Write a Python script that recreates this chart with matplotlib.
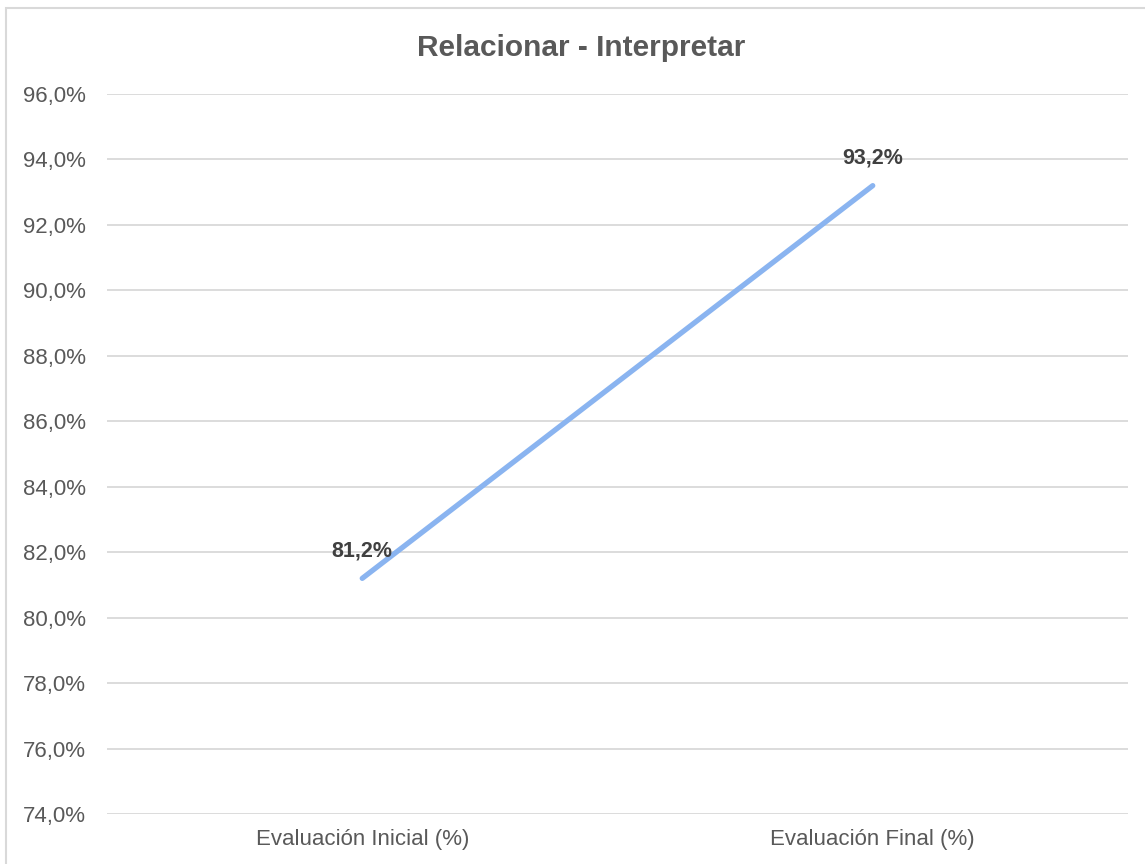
import matplotlib
matplotlib.use("Agg")
import matplotlib.pyplot as plt
from matplotlib.patches import Rectangle
from matplotlib.ticker import FuncFormatter

categories = ["Evaluación Inicial (%)", "Evaluación Final (%)"]
values = [81.2, 93.2]
labels = ["81,2%", "93,2%"]
title = "Relacionar - Interpretar"
yticks = [74, 76, 78, 80, 82, 84, 86, 88, 90, 92, 94, 96]

plt.rcParams['font.family'] = ['Liberation Sans', 'DejaVu Sans']

W, H = 1145, 864
fig = plt.figure(figsize=(W / 100, H / 100), dpi=100)
fig.patch.set_facecolor("white")

# outer chart border
fig.patches.append(Rectangle((6 / W, -0.1), 1.2, 1 - 8 / H + 0.1,
                             transform=fig.transFigure, fill=False,
                             edgecolor="#D9D9D9", linewidth=1.5, zorder=0))

ax = fig.add_axes([107 / W, 1 - 814 / H, (1128 - 107) / W, (814 - 94) / H])
x = list(range(len(categories)))
ax.plot(x, values, color="#8AB4F0", linewidth=3.8, solid_capstyle="round", zorder=3)

for xi, v, lab in zip(x, values, labels):
    ax.annotate(lab, (xi, v), xytext=(0, 12), textcoords="offset points",
                ha="center", va="bottom", fontsize=15.5, fontweight="bold",
                color="#404040", zorder=4)

ax.set_xlim(-0.5, len(categories) - 0.5)
ax.set_ylim(74, 96)
ax.set_yticks(yticks)
ax.yaxis.set_major_formatter(FuncFormatter(lambda v, p: f"{v:.1f}%".replace(".", ",")))
ax.set_xticks(x)
ax.set_xticklabels(categories)
ax.grid(axis="y", color="#D9D9D9", linewidth=1.3)
ax.set_axisbelow(True)
for s in ax.spines.values():
    s.set_visible(False)
ax.tick_params(axis="both", length=0, labelsize=16, labelcolor="#595959")
ax.tick_params(axis="y", pad=15)
ax.tick_params(axis="x", pad=11)

fig.text(581 / W, 1 - 48 / H, title, ha="center", va="center",
         fontsize=21.5, fontweight="bold", color="#595959")

fig.savefig("out.png", dpi=100)
